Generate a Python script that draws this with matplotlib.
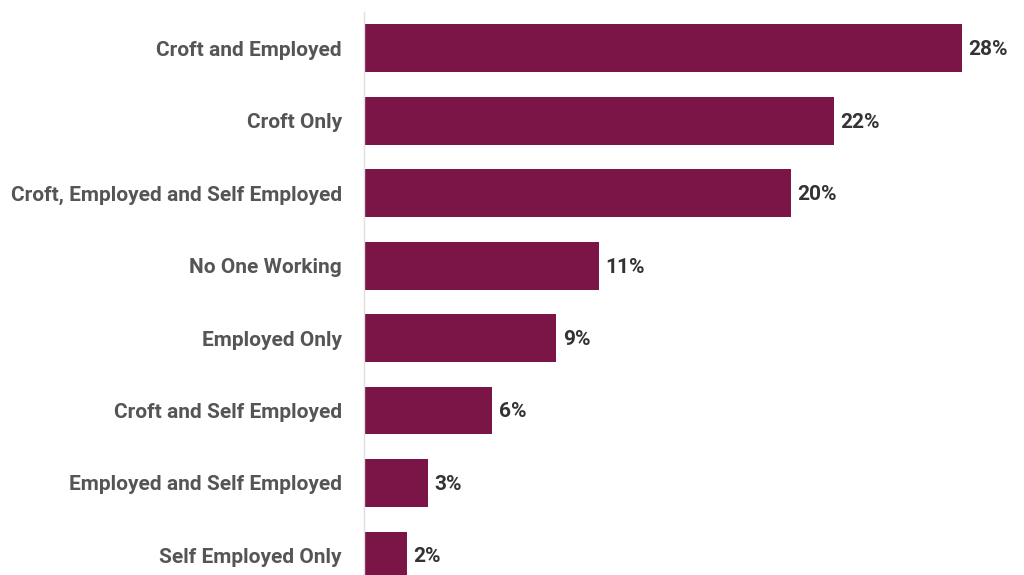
import matplotlib
matplotlib.use("Agg")
import matplotlib.pyplot as plt

categories = [
    "Croft and Employed",
    "Croft Only",
    "Croft, Employed and Self Employed",
    "No One Working",
    "Employed Only",
    "Croft and Self Employed",
    "Employed and Self Employed",
    "Self Employed Only",
]
values = [28, 22, 20, 11, 9, 6, 3, 2]

BAR_COLOR = "#7b1548"

plt.rcParams["font.family"] = ["Roboto", "DejaVu Sans"]

fig = plt.figure(figsize=(10.24, 5.75), dpi=100)
ax = fig.add_axes([364 / 1024, 0, 660 / 1024, 563 / 575])

pos = list(range(len(categories)))
ax.barh(pos, values, height=0.66, color=BAR_COLOR)
ax.set_xlim(0, 660 / 21.36)
ax.set_ylim(7.27, -0.5)

for p, v in zip(pos, values):
    ax.text(v + 0.3, p + 0.02, f"{v}%", va="center", ha="left",
            fontsize=15, fontweight="bold", color="#333333")

ax.set_yticks(pos)
ax.set_yticklabels(categories, fontsize=15, fontweight="bold", color="#555555")
ax.tick_params(axis="y", length=0, pad=16)
ax.set_xticks([])

for side in ["top", "right", "bottom"]:
    ax.spines[side].set_visible(False)
ax.spines["left"].set_color("#e0e0e0")
ax.spines["left"].set_linewidth(1)

fig.savefig("out.png", dpi=100)
